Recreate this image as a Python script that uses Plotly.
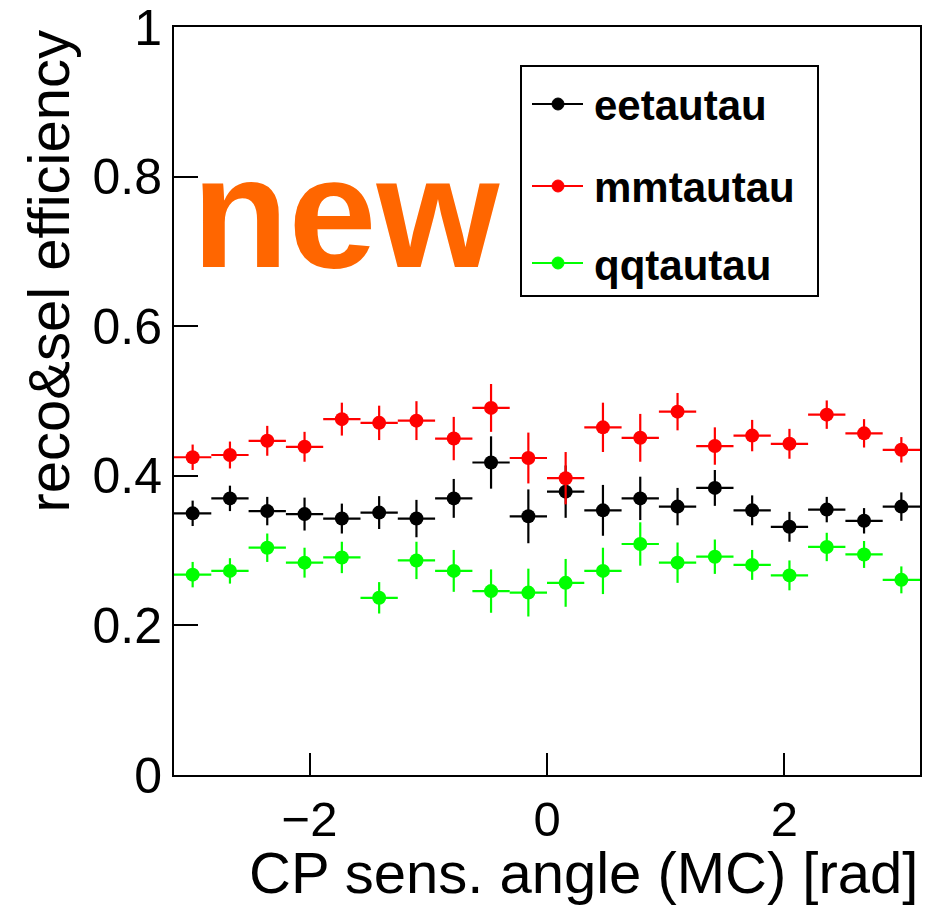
import numpy as np
import plotly.graph_objects as go

# --- binning of the CP-sensitive angle (20 bins over [-pi, pi]) ---
n_bins = 20
bin_edges = np.linspace(-np.pi, np.pi, n_bins + 1)
bin_centers = 0.5 * (bin_edges[:-1] + bin_edges[1:])
bin_half_width = 0.5 * (bin_edges[1] - bin_edges[0])

# --- reco & selection efficiency per bin ---
ee_eff = [0.350, 0.370, 0.353, 0.349, 0.343, 0.351, 0.343, 0.370, 0.418, 0.346,
          0.379, 0.354, 0.370, 0.359, 0.384, 0.354, 0.332, 0.355, 0.340, 0.359]
ee_err = [0.017, 0.017, 0.019, 0.022, 0.020, 0.022, 0.025, 0.026, 0.035, 0.036,
          0.035, 0.034, 0.029, 0.025, 0.024, 0.020, 0.020, 0.017, 0.017, 0.019]

mm_eff = [0.425, 0.428, 0.447, 0.439, 0.476, 0.471, 0.474, 0.450, 0.491, 0.424,
          0.397, 0.465, 0.451, 0.486, 0.440, 0.454, 0.443, 0.482, 0.457, 0.435]
mm_err = [0.017, 0.018, 0.020, 0.020, 0.022, 0.023, 0.026, 0.029, 0.032, 0.034,
          0.035, 0.033, 0.032, 0.025, 0.025, 0.021, 0.020, 0.019, 0.019, 0.017]

qq_eff = [0.268, 0.273, 0.304, 0.284, 0.291, 0.237, 0.287, 0.273, 0.246, 0.244,
          0.257, 0.273, 0.309, 0.284, 0.292, 0.281, 0.267, 0.305, 0.295, 0.261]
qq_err = [0.017, 0.017, 0.019, 0.020, 0.021, 0.021, 0.025, 0.028, 0.029, 0.032,
          0.032, 0.031, 0.029, 0.027, 0.023, 0.020, 0.020, 0.019, 0.018, 0.018]

series_names = ["eetautau", "mmtautau", "qqtautau"]
series_colors = ["#000000", "#ff0000", "#00ff00"]
series_eff = [ee_eff, mm_eff, qq_eff]
series_err = [ee_err, mm_err, qq_err]

y_tickvals = [0, 0.2, 0.4, 0.6, 0.8, 1.0]
y_ticktext = ["0", "0.2", "0.4", "0.6", "0.8", "1"]
x_tickvals = [-2, 0, 2]

FONT = "Liberation Sans, Arial, Helvetica, sans-serif"

# canvas and frame geometry (pixels)
W, H = 938, 912
M_L, M_R, M_T, M_B = 174, 18, 27, 137
PW, PH = W - M_L - M_R, H - M_T - M_B


def px_x(x):
    return (x - M_L) / PW


def px_y(y):
    return (H - M_B - y) / PH


fig = go.Figure()

for name, color, eff, err in zip(series_names, series_colors, series_eff, series_err):
    fig.add_trace(go.Scatter(
        x=bin_centers, y=eff, name=name, mode="markers",
        marker=dict(color=color, size=14, symbol="circle"),
        error_y=dict(type="data", array=err, visible=True,
                     color=color, thickness=2.2, width=0),
        error_x=dict(type="data", array=[bin_half_width] * n_bins, visible=True,
                     color=color, thickness=2.2, width=0),
        showlegend=False,
    ))

# legend box drawn in the ROOT style
shapes = [dict(type="rect", xref="paper", yref="paper",
               x0=px_x(521), x1=px_x(818), y0=px_y(296), y1=px_y(66),
               line=dict(color="black", width=2), fillcolor="white", layer="below")]
annotations = []
row_y = [104, 186, 263]
for name, color, ry in zip(series_names, series_colors, row_y):
    shapes.append(dict(type="line", xref="paper", yref="paper",
                       x0=px_x(532), x1=px_x(583), y0=px_y(ry), y1=px_y(ry),
                       line=dict(color=color, width=2)))
    shapes.append(dict(type="circle", xref="paper", yref="paper",
                       x0=px_x(552), x1=px_x(564), y0=px_y(ry + 6), y1=px_y(ry - 6),
                       line=dict(color=color, width=1), fillcolor=color))
    annotations.append(dict(text="<b>%s</b>" % name, xref="paper", yref="paper",
                            x=px_x(592), y=px_y(ry + 2), xanchor="left", yanchor="middle",
                            showarrow=False, font=dict(family=FONT, size=42, color="black")))

# "new" stamp
annotations.append(dict(text="<b>new</b>", xref="paper", yref="paper",
                        x=px_x(190), y=px_y(212), xanchor="left", yanchor="middle",
                        showarrow=False, font=dict(family=FONT, size=158, color="#ff6600")))

# axis titles (right/top aligned)
annotations.append(dict(text="CP sens. angle (MC) [rad]", xref="paper", yref="paper",
                        x=px_x(920), y=px_y(872), xanchor="right", yanchor="middle",
                        showarrow=False, font=dict(family=FONT, size=58, color="black")))
annotations.append(dict(text="reco&sel efficiency", xref="paper", yref="paper",
                        x=px_x(48), y=px_y(28), xanchor="center", yanchor="top",
                        textangle=-90, showarrow=False,
                        font=dict(family=FONT, size=58, color="black")))

fig.update_layout(
    width=W, height=H,
    margin=dict(l=M_L, r=M_R, t=M_T, b=M_B, pad=0, autoexpand=False),
    paper_bgcolor="white", plot_bgcolor="white",
    font=dict(family=FONT, color="black"),
    shapes=shapes, annotations=annotations,
    showlegend=False,
)
fig.update_xaxes(
    range=[-np.pi, np.pi], tickvals=x_tickvals, ticks="inside", ticklen=22, tickwidth=2,
    tickcolor="black", showline=True, linewidth=2, linecolor="black", mirror=True,
    showgrid=False, zeroline=False, tickfont=dict(family=FONT, size=49),
    ticklabelstandoff=0, automargin=False,
)
fig.update_yaxes(
    range=[0, 1.0005], tickvals=y_tickvals, ticktext=y_ticktext, ticks="inside", ticklen=24,
    tickwidth=2, tickcolor="black", showline=True, linewidth=2, linecolor="black",
    mirror=True, showgrid=False, zeroline=False, tickfont=dict(family=FONT, size=50),
    ticklabelstandoff=0, ticklabeloverflow="allow", automargin=False,
)

fig.write_html("out.html")
